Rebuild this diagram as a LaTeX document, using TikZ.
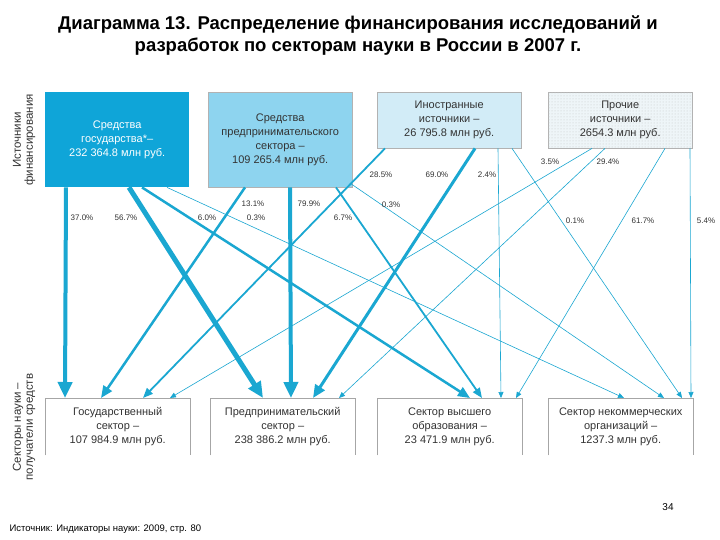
\documentclass[tikz,border=0pt]{standalone}
\usepackage{fontspec}
\setmainfont{Liberation Sans}
\usetikzlibrary{arrows.meta,patterns}
\definecolor{ar}{HTML}{1AA7D1}
\definecolor{govf}{HTML}{0FA5D8}
\definecolor{bizf}{HTML}{8ED4EF}
\definecolor{forf}{HTML}{D2ECF7}
\definecolor{othf}{HTML}{EEF5F8}
\definecolor{txt}{HTML}{333333}
\tikzset{
 src/.style={draw=gray!60,minimum width=144pt,align=center,font=\fontsize{11}{14}\selectfont,text=txt,anchor=north west,inner sep=1pt},
 dst/.style={minimum width=145pt,minimum height=57pt,align=center,font=\fontsize{11}{14}\selectfont,text=txt,anchor=north west,inner sep=1pt},
 fl/.style={draw=ar,-{Triangle[length=6pt,width=5pt]},line width=0.6pt},
 pc/.style={font=\fontsize{8}{9}\selectfont,text=txt},
}
\begin{document}
\begin{tikzpicture}[x=1pt,y=-1pt]
\useasboundingbox (0,0) rectangle (720,540);
\fill[white] (0,0) rectangle (720,540);
\node[font=\bfseries\fontsize{18.5}{22}\selectfont,align=center] (t) at (358,36) {Диаграмма 13. Распределение финансирования исследований и\\разработок по секторам науки в России в 2007 г.};
\node[rotate=90,align=center,font=\fontsize{11.5}{12}\selectfont,text=txt] (l1) at (24,140) {Источники\\финансирования};
\node[rotate=90,align=center,font=\fontsize{11.5}{12}\selectfont,text=txt] (l2) at (24,427) {Секторы науки –\\получатели средств};
\node[src,fill=govf,draw=none,text=white,minimum height=95pt] (g) at (45,92) {Средства\\государства*–\\232 364.8 млн руб.};
\node[src,fill=bizf,minimum height=95pt] (b) at (208,92) {Средства\\предпринимательского\\сектора –\\109 265.4 млн руб.};
\node[src,fill=forf,minimum height=56pt] (f) at (377,92) {Иностранные\\источники –\\26 795.8 млн руб.};
\node[src,fill=othf,minimum height=56pt,postaction={pattern=dots,pattern color=gray!45}] (o) at (548,92) {Прочие\\источники –\\2654.3 млн руб.};
\foreach \n/\x/\t in {G/45/{Государственный\\сектор –\\107 984.9 млн руб.},B/210/{Предпринимательский\\сектор –\\238 386.2 млн руб.},H/377/{Сектор высшего\\образования –\\23 471.9 млн руб.},N/548/{Сектор некоммерческих\\организаций –\\1237.3 млн руб.}}{
 \node[dst] (\n) at (\x,398) {\t};
 \draw[gray!70,line width=0.6pt] (\n.south west)--(\n.north west)--(\n.north east)--(\n.south east);
}
% flows
\draw[fl,line width=4pt,-{Triangle[length=16pt,width=14pt]}] (g.south west)++(21,0) -- ([xshift=20pt]G.north west);
\draw[fl,line width=5pt,-{Triangle[length=16pt,width=14pt]}] (g.south west)++(84,0) -- ([xshift=53pt]B.north west);
\draw[fl,line width=2.5pt,-{Triangle[length=12pt,width=10pt]}] (g.south west)++(97,0) -- ([xshift=93pt]H.north west);
\draw[fl] (g.south west)++(122,0) -- ([xshift=76pt]N.north west);
\draw[fl,line width=2.5pt,-{Triangle[length=12pt,width=10pt]}] (b.south west)++(37,0) -- ([xshift=56pt]G.north west);
\draw[fl,line width=4pt,-{Triangle[length=16pt,width=14pt]}] (b.south west)++(82,0) -- ([xshift=81pt]B.north west);
\draw[fl,line width=1.8pt,-{Triangle[length=10pt,width=8pt]}] (b.south west)++(128,0) -- ([xshift=105pt]H.north west);
\draw[fl] (b.south east)++(-2,-4) -- ([xshift=116pt]N.north west);
\draw[fl,line width=1.8pt,-{Triangle[length=10pt,width=8pt]}] (f.south west)++(8,0) -- ([xshift=98pt]G.north west);
\draw[fl,line width=3pt,-{Triangle[length=13pt,width=11pt]}] (f.south west)++(98,0) -- ([xshift=103pt]B.north west);
\draw[fl] (f.south west)++(121,0) -- ([xshift=124pt]H.north west);
\draw[fl] (f.south west)++(135,0) -- ([xshift=134pt]N.north west);
\draw[fl] (o.south west)++(44,0) -- ([xshift=125pt]G.north west);
\draw[fl] (o.south west)++(57,0) -- ([xshift=129pt]B.north west);
\draw[fl] (o.south west)++(117,0) -- ([xshift=139pt]H.north west);
\draw[fl] (o.south west)++(142,0) -- ([xshift=143pt]N.north west);
% labels
\node[pc] (p1) at (82,218) {37.0\%};
\node[pc] (p2) at (126,218) {56.7\%};
\node[pc] (p3) at (207,218) {6.0\%};
\node[pc] (p4) at (256,218) {0.3\%};
\node[pc] (p5) at (253,204) {13.1\%};
\node[pc] (p6) at (309,204) {79.9\%};
\node[pc] (p7) at (343,218) {6.7\%};
\node[pc] (p8) at (391,205) {0.3\%};
\node[pc] (p9) at (381,175) {28.5\%};
\node[pc] (p10) at (437,175) {69.0\%};
\node[pc] (p11) at (487,175) {2.4\%};
\node[pc] (p12) at (550,162) {3.5\%};
\node[pc] (p13) at (608,162) {29.4\%};
\node[pc] (p14) at (575,221) {0.1\%};
\node[pc] (p15) at (643,221) {61.7\%};
\node[pc] (p16) at (706,221) {5.4\%};
\node[font=\fontsize{10}{12}\selectfont] (pg) at (668,507) {34};
\node[font=\fontsize{9.5}{11}\selectfont,anchor=west] (src) at (6,529) {Источник: Индикаторы науки: 2009, стр. 80};
\end{tikzpicture}
\end{document}
